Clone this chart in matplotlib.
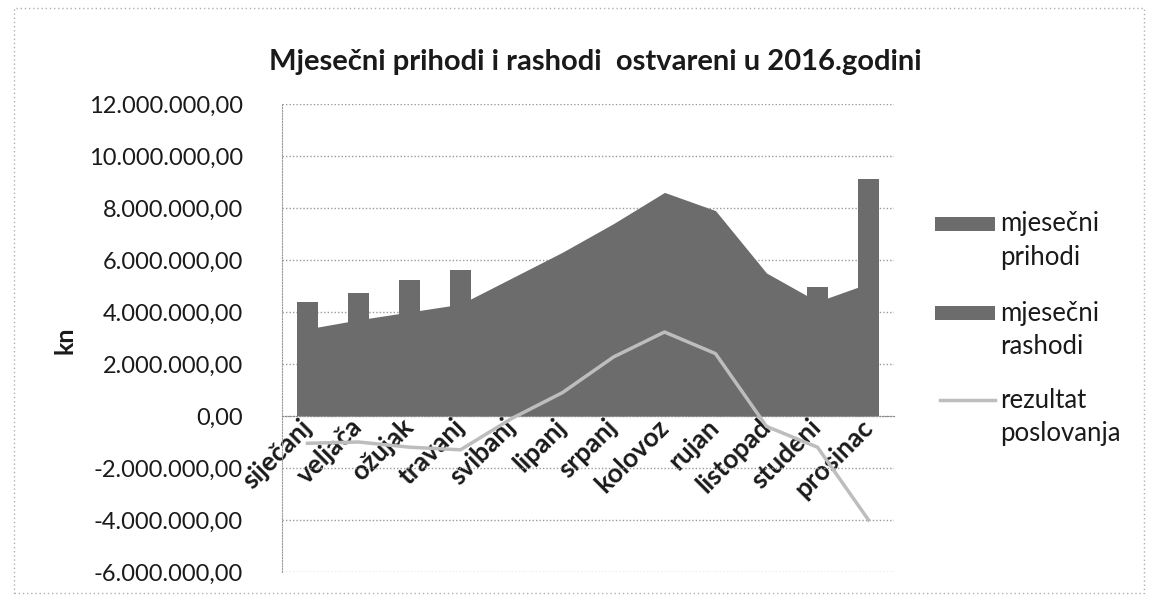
import matplotlib
matplotlib.use("Agg")
import matplotlib.pyplot as plt
from matplotlib.patches import Rectangle
from matplotlib.lines import Line2D
from matplotlib.ticker import FuncFormatter
import numpy as np

plt.rcParams['font.family'] = ['Lato', 'DejaVu Sans']

months = ['siječanj', 'veljača', 'ožujak', 'travanj', 'svibanj', 'lipanj',
          'srpanj', 'kolovoz', 'rujan', 'listopad', 'studeni', 'prosinac']
# area series (mjesečni prihodi)
prihodi = [3.35e6, 3.70e6, 4.00e6, 4.30e6, 5.30e6, 6.30e6,
           7.40e6, 8.60e6, 7.90e6, 5.50e6, 4.40e6, 5.10e6]
# column series (mjesečni rashodi)
rashodi = [4.40e6, 4.75e6, 5.25e6, 5.60e6, 4.90e6, 5.40e6,
           5.10e6, 5.40e6, 5.50e6, 5.00e6, 4.95e6, 9.10e6]
# line series (rezultat poslovanja)
rezultat = [-1.05e6, -1.00e6, -1.20e6, -1.30e6, -0.10e6, 0.90e6,
            2.27e6, 3.23e6, 2.40e6, -0.40e6, -1.20e6, -4.00e6]
yticks = [-6e6, -4e6, -2e6, 0, 2e6, 4e6, 6e6, 8e6, 10e6, 12e6]
legend_labels = ['mjesečni\nprihodi', 'mjesečni\nrashodi', 'rezultat\nposlovanja']
title = 'Mjesečni prihodi i rashodi  ostvareni u 2016.godini'

W, H = 1150, 602
fig = plt.figure(figsize=(W / 100, H / 100), dpi=100)
ax = fig.add_axes([282 / W, 1 - 572 / H, 612 / W, 468 / H])

x = np.arange(len(months))
fill_col = '#6c6c6c'
line_col = '#bdbdbd'
ax.bar(x, rashodi, width=0.40, color=fill_col, zorder=2)
ax.fill_between(x, 0, prihodi, color=fill_col, linewidth=0, zorder=2)
ax.plot(x, rezultat, color=line_col, lw=2.5, zorder=4)

ax.set_xlim(-0.5, len(months) - 0.5)
ax.set_ylim(-6e6, 12e6)
ax.set_yticks(yticks)

def fmt(v, pos):
    s = f"{abs(v):,.2f}".replace(',', 'X').replace('.', ',').replace('X', '.')
    return ('-' if v < 0 else '') + s

ax.yaxis.set_major_formatter(FuncFormatter(fmt))
ax.tick_params(axis='y', length=0, labelsize=17, pad=28, labelcolor='#1a1a1a')
ax.grid(axis='y', linestyle=(0, (1, 1.5)), color='#9a9a9a', lw=1, zorder=0)
ax.set_axisbelow(True)

ax.spines['bottom'].set_position(('data', 0))
ax.spines['bottom'].set_color('#8a8a8a')
ax.spines['bottom'].set_linestyle((0, (1, 1.5)))
for s in ['top', 'right']:
    ax.spines[s].set_visible(False)
ax.spines['left'].set_color('#9a9a9a')
ax.spines['left'].set_linestyle((0, (1, 1.5)))

ax.set_xticks(x)
ax.set_xticklabels(months, rotation=45, ha='right', va='center',
                   rotation_mode='anchor', fontsize=19, fontweight='bold',
                   color='#1a1a1a')
ax.tick_params(axis='x', length=0, pad=5)

fig.text(65 / W, 1 - 340 / H, 'kn', rotation=90, ha='center', va='center',
         fontsize=18, fontweight='bold', color='#1a1a1a')

fig.text(595 / W, 1 - 62 / H, title, ha='center', va='center',
         fontsize=21, fontweight='bold', color='#1a1a1a')

# legend (keys aligned with the first line of each label, as in the original)
key_rows = [224, 313, 400]
for i, (lab, yk) in enumerate(zip(legend_labels, key_rows)):
    if i < 2:
        fig.add_artist(Rectangle((935 / W, 1 - (yk + 7) / H), 60 / W, 14 / H,
                                 transform=fig.transFigure, facecolor=fill_col,
                                 edgecolor='none'))
    else:
        fig.add_artist(Line2D([940 / W, 995 / W], [1 - yk / H, 1 - yk / H],
                              transform=fig.transFigure, color=line_col, lw=2.5))
    first, second = lab.split('\n')
    fig.text(1000 / W, 1 - yk / H, first, ha='left', va='center',
             fontsize=18.5, color='#1a1a1a')
    fig.text(1000 / W, 1 - (yk + 33) / H, second, ha='left', va='center',
             fontsize=18.5, color='#1a1a1a')

fig.add_artist(Rectangle((0.012, 0.015), 0.983, 0.972, transform=fig.transFigure,
                         fill=False, edgecolor='#b0b0b0', lw=1,
                         linestyle=(0, (1, 2))))

fig.savefig('out.png', dpi=100)
